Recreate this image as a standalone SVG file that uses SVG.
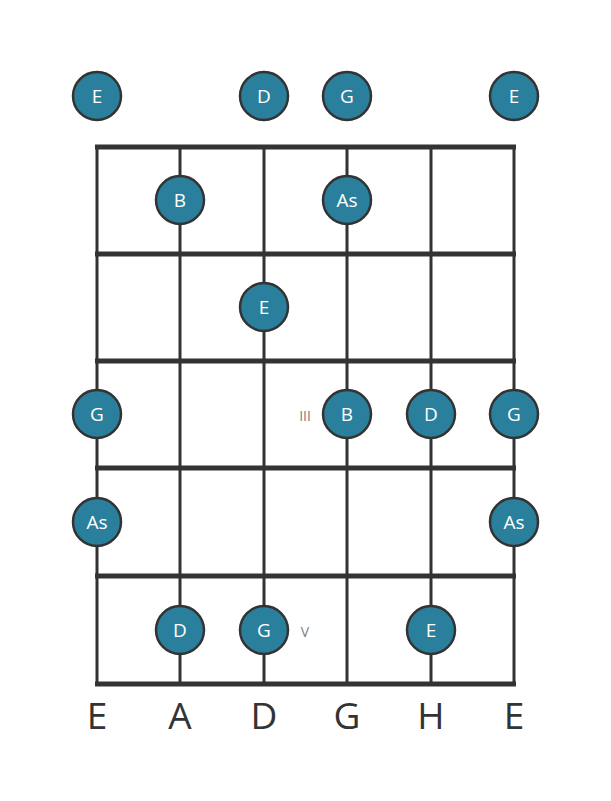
<svg xmlns="http://www.w3.org/2000/svg" width="611" height="801" viewBox="0 0 611 801">
<style>
.str{stroke:#333;stroke-width:3}
.fret{stroke:#333;stroke-width:5}
.note circle{fill:#2a7f9c;stroke:#333;stroke-width:2.5}
.note text{fill:#fff;font-family:"Open Sans",sans-serif;font-size:19px;text-anchor:middle;dominant-baseline:central}
.lab{fill:#333;font-family:"Open Sans",sans-serif;font-size:37px;text-anchor:middle}
.mark{fill:#808080;font-family:"Open Sans",sans-serif;font-size:14px;text-anchor:middle;dominant-baseline:central}
</style>
<rect width="611" height="801" fill="#fff"/>
<g id="connectors">
<line class="str" x1="97" y1="147" x2="97" y2="684"/>
<line class="str" x1="180" y1="147" x2="180" y2="684"/>
<line class="str" x1="264" y1="147" x2="264" y2="684"/>
<line class="str" x1="347" y1="147" x2="347" y2="684"/>
<line class="str" x1="431" y1="147" x2="431" y2="684"/>
<line class="str" x1="514" y1="147" x2="514" y2="684"/>
<line class="fret" x1="95" y1="147" x2="516" y2="147"/>
<line class="fret" x1="95" y1="254" x2="516" y2="254"/>
<line class="fret" x1="95" y1="361" x2="516" y2="361"/>
<line class="fret" x1="95" y1="468" x2="516" y2="468"/>
<line class="fret" x1="95" y1="576" x2="516" y2="576"/>
<line class="fret" x1="95" y1="684" x2="516" y2="684"/>
</g>
<g id="n-open-E1" class="note"><circle cx="97" cy="96" r="24"/><text x="97" y="96">E</text></g>
<g id="n-open-D" class="note"><circle cx="264" cy="96" r="24"/><text x="264" y="96">D</text></g>
<g id="n-open-G" class="note"><circle cx="347" cy="96" r="24"/><text x="347" y="96">G</text></g>
<g id="n-open-E6" class="note"><circle cx="514" cy="96" r="24"/><text x="514" y="96">E</text></g>
<g id="n-1-B" class="note"><circle cx="180" cy="200" r="24"/><text x="180" y="200">B</text></g>
<g id="n-1-As" class="note"><circle cx="347" cy="200" r="24"/><text x="347" y="200">As</text></g>
<g id="n-2-E" class="note"><circle cx="264" cy="307" r="24"/><text x="264" y="307">E</text></g>
<g id="n-3-G1" class="note"><circle cx="97" cy="414" r="24"/><text x="97" y="414">G</text></g>
<g id="n-3-B" class="note"><circle cx="347" cy="414" r="24"/><text x="347" y="414">B</text></g>
<g id="n-3-D" class="note"><circle cx="431" cy="414" r="24"/><text x="431" y="414">D</text></g>
<g id="n-3-G6" class="note"><circle cx="514" cy="414" r="24"/><text x="514" y="414">G</text></g>
<g id="n-4-As1" class="note"><circle cx="97" cy="522" r="24"/><text x="97" y="522">As</text></g>
<g id="n-4-As6" class="note"><circle cx="514" cy="522" r="24"/><text x="514" y="522">As</text></g>
<g id="n-5-D" class="note"><circle cx="180" cy="630" r="24"/><text x="180" y="630">D</text></g>
<g id="n-5-G" class="note"><circle cx="264" cy="630" r="24"/><text x="264" y="630">G</text></g>
<g id="n-5-E" class="note"><circle cx="431" cy="630" r="24"/><text x="431" y="630">E</text></g>
<g id="markers">
<text class="mark" x="305" y="415">III</text>
<text class="mark" x="305" y="631">V</text>
</g>
<g id="labels">
<text class="lab" x="97" y="729">E</text>
<text class="lab" x="180" y="729">A</text>
<text class="lab" x="264" y="729">D</text>
<text class="lab" x="347" y="729">G</text>
<text class="lab" x="431" y="729">H</text>
<text class="lab" x="514" y="729">E</text>
</g>
</svg>
